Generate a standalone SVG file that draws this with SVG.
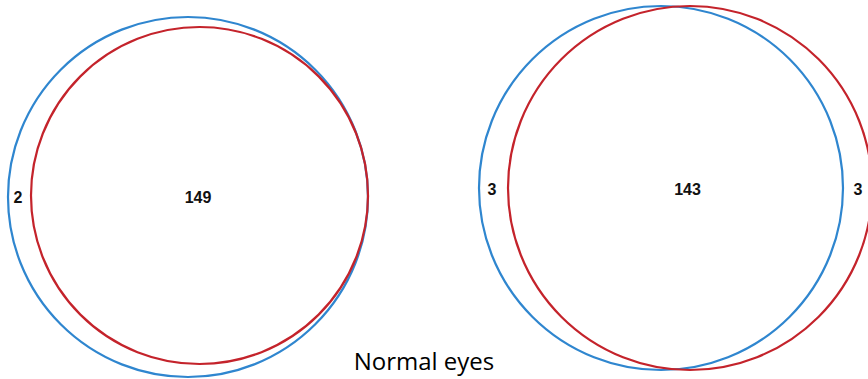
<svg xmlns="http://www.w3.org/2000/svg" width="868" height="379" viewBox="0 0 868 379">
<style>
.blue{fill:none;stroke:#2f86cf;stroke-width:2.2}
.red{fill:none;stroke:#c4232b;stroke-width:2.2}
.num{font-family:"Liberation Sans",Arial,sans-serif;font-weight:bold;font-size:16px;fill:#111;text-anchor:middle}
.cap{font-family:"Open Sans","Liberation Sans",sans-serif;font-size:24px;fill:#000;text-anchor:middle}
</style>
<rect width="868" height="379" fill="#fff"/>
<g id="left-venn">
<circle class="blue" cx="188" cy="197" r="180"/>
<circle class="red" cx="199.5" cy="195.5" r="168.5"/>
<text class="num" x="18" y="203">2</text>
<text class="num" x="198" y="203">149</text>
</g>
<g id="right-venn">
<circle class="blue" cx="661" cy="188" r="182"/>
<circle class="red" cx="690" cy="188" r="182"/>
<text class="num" x="492" y="195">3</text>
<text class="num" x="687.5" y="195">143</text>
<text class="num" x="858" y="195">3</text>
</g>
<g id="connectors"/>
<text class="cap" x="424" y="370">Normal eyes</text>
</svg>
